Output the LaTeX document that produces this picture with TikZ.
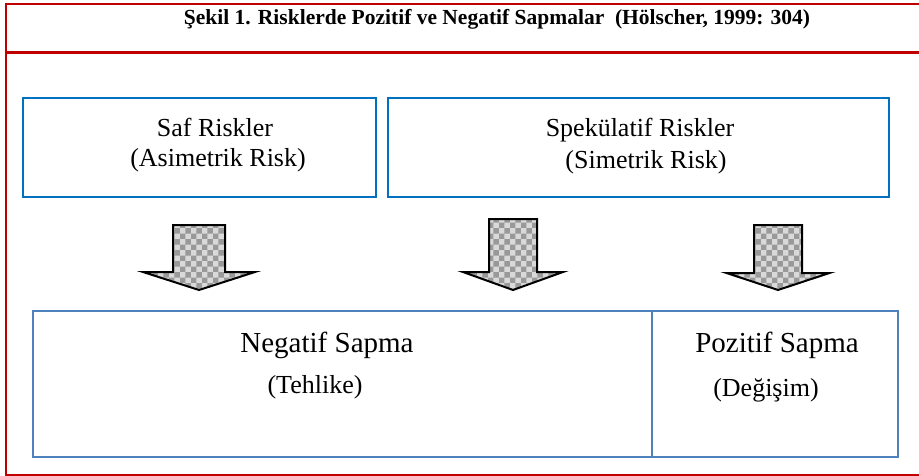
\documentclass[tikz,border=0pt]{standalone}
\usepackage{fontspec}
\setmainfont{Liberation Serif}
\usetikzlibrary{patterns}
\definecolor{framered}{HTML}{C00000}
\definecolor{topblue}{HTML}{0070C0}
\definecolor{lowblue}{HTML}{4F81BD}
\newcommand{\blockarrow}[6]{\draw[line width=2pt,line join=miter,preaction={fill=gray!30},pattern=checkerboard,pattern color=gray!80] ({#1-#2},#3)--({#1+#2},#3)--({#1+#2},#4)--({#1+#5},#4)--(#1,#6)--({#1-#5},#4)--({#1-#2},#4)--cycle;}

\begin{document}
\begin{tikzpicture}[x=1pt,y=-1pt,toptext/.style={anchor=base,inner sep=0pt,font=\fontsize{26}{30}\selectfont},lowtext/.style={anchor=base,inner sep=0pt,font=\fontsize{29}{34}\selectfont},subtext/.style={anchor=base,inner sep=0pt,font=\fontsize{26}{30}\selectfont}]
\useasboundingbox (0,0) rectangle (919,476);
\draw[framered,line width=2pt] (919,4)--(6,4)--(6,475)--(919,475);
\draw[framered,line width=2.5pt] (6,52.5)--(919,52.5);
\node[anchor=base,inner sep=0pt,font=\fontsize{21.5}{24}\selectfont\bfseries] (title) at (497,25) {Şekil 1. Risklerde Pozitif ve Negatif Sapmalar\ \ (Hölscher, 1999: 304)};
\draw[topblue,line width=2pt] (23,98) rectangle (376,197);
\draw[topblue,line width=2pt] (388,98) rectangle (889,197);
\node[toptext] (saf) at (215,137) {Saf Riskler};
\node[toptext] (asim) at (218,167) {(Asimetrik Risk)};
\node[toptext] (spek) at (640,137) {Spekülatif Riskler};
\node[toptext] (sim) at (646,168) {(Simetrik Risk)};
\blockarrow{199}{26}{225}{272}{56}{290}
\blockarrow{513}{24}{219}{272}{50}{290}
\blockarrow{778}{24}{225}{273}{51.5}{290}
\draw[lowblue,line width=2pt] (33,311) rectangle (898,457);
\draw[lowblue,line width=2pt] (652,311)--(652,457);
\node[lowtext] (neg) at (327,352) {Negatif Sapma};
\node[subtext] (tehl) at (315,393) {(Tehlike)};
\node[lowtext] (poz) at (777,352) {Pozitif Sapma};
\node[subtext] (degi) at (766,396) {(Değişim)};
\end{tikzpicture}
\end{document}
